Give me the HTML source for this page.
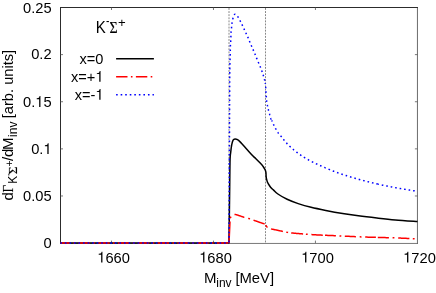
<!DOCTYPE html>
<html><head><meta charset="utf-8"><style>
html,body{margin:0;padding:0;background:#fff;}
body{width:436px;height:293px;overflow:hidden;}
svg{display:block;}
.t{filter:grayscale(1);}
text{font-family:"Liberation Sans",sans-serif;font-size:15px;fill:#000;}
</style></head><body>
<svg width="436" height="293" viewBox="0 0 436 293">
<rect width="436" height="293" fill="#fff"/>
<g stroke="#888" stroke-width="1" stroke-dasharray="1.9 1.2" fill="none">
<path d="M229.0,8 V243.1"/><path d="M265.5,8 V243.1"/>
</g>
<g stroke-width="1" fill="none">
<path d="M417.45,7.5 V243.8" stroke="#6c6c6c"/><path d="M417.95,243.45 H60.5" stroke="#555" stroke-width="0.8"/>
<path d="M60.5,243.8 V7 M60,7.5 H417.95" stroke="#2c2c2c"/>
</g>
<g stroke="#555" stroke-width="0.8" fill="none"><path d="M111.49,243.1 v-2.5 M111.49,7.5 v2.5"/><path d="M213.46,243.1 v-2.5 M213.46,7.5 v2.5"/><path d="M315.43,243.1 v-2.5 M315.43,7.5 v2.5"/><path d="M60.5,195.98 h2.5 M417.4,195.98 h-2.5"/><path d="M60.5,148.86 h2.5 M417.4,148.86 h-2.5"/><path d="M60.5,101.74 h2.5 M417.4,101.74 h-2.5"/><path d="M60.5,54.62 h2.5 M417.4,54.62 h-2.5"/></g>
<g fill="none" stroke-width="1.5" stroke-linejoin="round">
<path d="M60.5,243.0 L229.0,243.0 C229.06,238.33 229.23,224.33 229.35,215.00 C229.47,205.67 229.58,196.22 229.70,187.00 C229.82,177.78 229.88,165.48 230.05,159.70 C230.22,153.92 230.42,154.77 230.70,152.30 C230.97,149.83 231.30,146.92 231.70,144.90 C232.10,142.88 232.55,141.20 233.10,140.20 C233.65,139.20 234.27,138.98 235.00,138.90 C235.73,138.82 236.57,139.12 237.50,139.70 C238.43,140.28 239.05,140.82 240.60,142.40 C242.15,143.98 244.73,146.93 246.80,149.20 C248.87,151.47 251.48,154.42 253.00,156.00 C254.52,157.58 254.70,157.52 255.90,158.70 C257.10,159.88 258.97,161.77 260.20,163.10 C261.43,164.43 262.48,165.58 263.30,166.70 C264.12,167.82 264.67,168.87 265.10,169.80 C265.53,170.73 265.73,171.27 265.90,172.30 C266.07,173.33 266.01,174.93 266.10,176.00 C266.19,177.07 266.22,177.67 266.45,178.70 C266.68,179.73 266.96,180.98 267.50,182.20 C268.04,183.42 269.03,184.98 269.70,186.00 C270.37,187.02 270.88,187.65 271.50,188.30 C272.12,188.95 272.33,188.95 273.40,189.90 C274.47,190.85 275.62,192.43 277.90,194.00 C280.18,195.57 283.72,197.70 287.10,199.30 C290.48,200.90 294.20,202.27 298.20,203.60 C302.20,204.93 306.50,206.17 311.10,207.30 C315.70,208.43 320.27,209.33 325.80,210.40 C331.33,211.47 338.87,212.80 344.30,213.70 C349.73,214.60 352.97,215.08 358.40,215.80 C363.83,216.52 370.75,217.32 376.90,218.00 C383.05,218.68 388.53,219.30 395.30,219.90 C402.07,220.50 413.80,221.32 417.50,221.60" stroke="#000"/>
<path d="M60.5,243.0 H229.0" stroke="#ff0000" stroke-dasharray="11.4 3.4 1.6 3.4" stroke-dashoffset="1.9"/>
<path d="M234.50,214.50 L235.02,214.47 L235.54,214.51 L236.06,214.63 L236.58,214.78 L237.11,214.93 L237.63,215.09 L238.15,215.27 L238.67,215.44 L239.19,215.62 L239.71,215.80 L240.23,215.98 L240.75,216.17 L241.27,216.35 L241.79,216.53 L242.32,216.71 L242.84,216.89 L243.36,217.06 L243.88,217.24 L244.40,217.40 M253.50,220.20 L254.00,220.37 L254.51,220.55 L255.01,220.72 L255.52,220.89 L256.02,221.06 L256.53,221.23 L257.03,221.41 L257.54,221.58 L258.04,221.75 L258.55,221.92 L259.05,222.09 L259.55,222.26 L260.06,222.43 L260.56,222.60 L261.07,222.77 L261.57,222.95 L262.08,223.12 L262.58,223.29 L263.09,223.47 L263.59,223.64 L264.10,223.82 L264.60,224.00 M271.00,228.87 L271.52,229.01 L272.03,229.13 L272.55,229.24 L273.07,229.35 L273.59,229.45 L274.10,229.55 L274.62,229.66 L275.14,229.76 L275.66,229.87 L276.17,229.98 L276.69,230.09 L277.21,230.20 L277.73,230.31 L278.24,230.42 L278.76,230.54 L279.28,230.65 L279.80,230.76 L280.31,230.87 L280.83,230.98 L281.35,231.09 L281.87,231.20 L282.38,231.32 L282.90,231.43 M291.20,232.98 L291.72,233.01 L292.23,233.04 L292.75,233.08 L293.27,233.12 L293.79,233.16 L294.30,233.20 L294.82,233.24 L295.34,233.29 L295.86,233.33 L296.37,233.38 L296.89,233.42 L297.41,233.46 L297.93,233.51 L298.44,233.55 L298.96,233.60 L299.48,233.64 L300.00,233.68 L300.51,233.73 L301.03,233.77 L301.55,233.81 L302.07,233.86 L302.58,233.90 L303.10,233.94 M311.40,234.57 L311.92,234.60 L312.44,234.64 L312.95,234.67 L313.47,234.71 L313.99,234.74 L314.51,234.77 L315.03,234.80 L315.55,234.83 L316.06,234.86 L316.58,234.89 L317.10,234.92 L317.62,234.94 L318.14,234.97 L318.65,235.00 L319.17,235.02 L319.69,235.05 L320.21,235.07 L320.73,235.10 L321.25,235.12 L321.76,235.14 L322.28,235.17 L322.80,235.19 M325.00,235.29 L325.52,235.31 L326.04,235.33 L326.56,235.35 L327.08,235.37 L327.60,235.39 L328.11,235.41 L328.63,235.43 L329.15,235.45 L329.67,235.47 L330.19,235.50 L330.71,235.52 L331.23,235.54 L331.75,235.56 L332.27,235.58 L332.79,235.60 L333.30,235.62 L333.82,235.64 L334.34,235.66 L334.86,235.68 L335.38,235.70 L335.90,235.72 M344.80,236.13 L345.30,236.16 L345.81,236.18 L346.31,236.21 L346.82,236.24 L347.32,236.26 L347.83,236.29 L348.33,236.31 L348.84,236.34 L349.34,236.37 L349.85,236.39 L350.35,236.42 L350.85,236.45 L351.36,236.47 L351.86,236.50 L352.37,236.52 L352.87,236.55 L353.38,236.57 L353.88,236.60 L354.39,236.62 L354.89,236.65 L355.40,236.67 L355.90,236.69 M365.20,237.05 L365.71,237.06 L366.22,237.08 L366.73,237.10 L367.24,237.11 L367.75,237.13 L368.26,237.14 L368.77,237.16 L369.28,237.17 L369.79,237.19 L370.30,237.21 L370.80,237.22 L371.31,237.24 L371.82,237.25 L372.33,237.27 L372.84,237.28 L373.35,237.30 L373.86,237.31 L374.37,237.33 L374.88,237.34 L375.39,237.36 L375.90,237.37 M377.80,237.43 L378.30,237.44 L378.81,237.45 L379.31,237.47 L379.82,237.48 L380.32,237.49 L380.83,237.51 L381.33,237.52 L381.84,237.53 L382.34,237.55 L382.85,237.56 L383.35,237.57 L383.85,237.58 L384.36,237.60 L384.86,237.61 L385.37,237.62 L385.87,237.63 L386.38,237.64 L386.88,237.66 L387.39,237.67 L387.89,237.68 L388.40,237.69 L388.90,237.71 M398.20,238.01 L398.71,238.03 L399.22,238.05 L399.73,238.07 L400.24,238.10 L400.75,238.12 L401.25,238.14 L401.76,238.16 L402.27,238.18 L402.78,238.21 L403.29,238.23 L403.80,238.25 L404.31,238.27 L404.82,238.30 L405.33,238.32 L405.84,238.34 L406.35,238.37 L406.85,238.39 L407.36,238.41 L407.87,238.44 L408.38,238.46 L408.89,238.49 L409.40,238.51 M248.20,218.35 L248.80,218.51 L249.40,218.69 L250.00,218.90 M265.80,225.20 L266.40,226.30 L267.00,226.99 L267.60,227.42 M286.30,232.14 L286.90,232.26 L287.50,232.37 L288.10,232.49 M305.90,234.16 L306.50,234.21 L307.10,234.26 L307.70,234.30 M339.50,235.88 L340.10,235.90 L340.70,235.93 L341.30,235.96 M359.70,236.85 L360.30,236.87 L360.90,236.90 L361.50,236.92 M392.60,237.81 L393.20,237.83 L393.80,237.85 L394.40,237.87 M412.80,238.66 L413.40,238.69 L414.00,238.71 L414.60,238.74 M229.0,243.0 L230.0,221.5 M230.2,218.3 L231.0,216.6" stroke="#ff0000"/>
<path d="M60.5,243.0 H229.0" stroke="#0000ff" stroke-dasharray="1.6 2.95" stroke-dashoffset="0.2"/>
<path d="M229.0,243.0 C229.07,227.50 229.28,177.17 229.40,150.00 C229.52,122.83 229.63,93.58 229.70,80.00 C229.77,66.42 229.77,71.18 229.80,68.50 C229.83,65.82 229.86,65.42 229.90,63.90 C229.94,62.38 230.00,60.88 230.05,59.40 C230.10,57.92 230.16,56.48 230.20,55.00 C230.24,53.52 230.27,52.02 230.30,50.50 C230.33,48.98 230.33,47.37 230.40,45.90 C230.47,44.43 230.62,43.23 230.70,41.70 C230.78,40.17 230.85,38.23 230.90,36.70 C230.95,35.17 230.90,33.95 231.00,32.50 C231.10,31.05 231.35,29.47 231.50,28.00 C231.65,26.53 231.68,25.20 231.90,23.70 C232.12,22.20 232.40,20.47 232.80,19.00 C233.20,17.53 233.85,15.65 234.30,14.90 C234.75,14.15 234.88,14.15 235.50,14.50 C236.12,14.85 237.22,15.92 238.00,17.00 C238.78,18.08 239.52,19.70 240.20,21.00 C240.88,22.30 241.47,23.48 242.10,24.80 C242.73,26.12 243.37,27.53 244.00,28.90 C244.63,30.27 245.27,31.63 245.90,33.00 C246.53,34.37 247.20,35.72 247.80,37.10 C248.40,38.48 248.93,39.93 249.50,41.30 C250.07,42.67 250.62,43.95 251.20,45.30 C251.78,46.65 252.40,48.00 253.00,49.40 C253.60,50.80 254.20,52.25 254.80,53.70 C255.40,55.15 256.02,56.68 256.60,58.10 C257.18,59.52 257.73,60.87 258.30,62.20 C258.87,63.53 259.45,64.77 260.00,66.10 C260.55,67.43 261.08,68.77 261.60,70.20 C262.12,71.63 262.65,73.27 263.10,74.70 C263.55,76.13 263.93,77.42 264.30,78.80 C264.67,80.18 265.13,82.30 265.30,83.00" stroke="#0000ff" stroke-dasharray="1.6 2.95" stroke-dashoffset="3.7"/>
<path d="M265.30,83.00 L265.31,83.11 L265.33,83.23 L265.34,83.36 L265.36,83.51 L265.38,83.67 L265.40,83.85 L265.42,84.03 L265.44,84.22 L265.46,84.42 L265.49,84.63 L265.51,84.84 L265.54,85.06 L265.56,85.29 L265.59,85.51 L265.61,85.74 L265.64,85.97 L265.66,86.19 L265.68,86.42 L265.71,86.65 L265.73,86.87 L265.75,87.09 L265.77,87.30 L265.78,87.50 L265.80,87.70 L265.81,87.89 L265.83,88.09 L265.84,88.28 L265.85,88.48 L265.86,88.67 L265.87,88.86 L265.88,89.06 L265.89,89.25 L265.89,89.45 L265.90,89.64 L265.91,89.83 L265.91,90.02 L265.92,90.22 L265.92,90.41 L265.93,90.60 L265.94,90.79 L265.94,90.98 L265.95,91.17 L265.96,91.36 L265.96,91.55 L265.97,91.74 L265.98,91.93 L265.99,92.11 L266.00,92.30 L266.01,92.48 L266.02,92.67 L266.03,92.85 L266.04,93.03 L266.06,93.21 L266.07,93.39 L266.08,93.57 L266.09,93.75 L266.11,93.93 L266.12,94.10 L266.13,94.28 L266.14,94.46 L266.16,94.63 L266.17,94.81 L266.18,94.99 L266.20,95.16 L266.21,95.34 L266.22,95.52 L266.24,95.70 L266.25,95.88 L266.26,96.05 L266.27,96.24 L266.29,96.42 L266.30,96.60 L266.31,96.78 L266.32,96.97 L266.33,97.15 L266.34,97.34 L266.35,97.52 L266.36,97.71 L266.37,97.90 L266.38,98.09 L266.39,98.27 L266.39,98.46 L266.40,98.65 L266.41,98.84 L266.42,99.03 L266.43,99.21 L266.44,99.40 L266.46,99.59 L266.47,99.78 L266.48,99.97 L266.50,100.16 L266.52,100.35 L266.53,100.54 L266.55,100.72 L266.58,100.91 L266.60,101.10 L266.63,101.29 L266.65,101.48 L266.68,101.66 L266.72,101.85 L266.75,102.04 L266.78,102.23 L266.82,102.42 L266.86,102.61 L266.89,102.80 L266.93,102.99 L266.97,103.17 L267.01,103.36 L267.05,103.55 L267.09,103.74 L267.14,103.93 L267.18,104.11 L267.22,104.30 L267.26,104.49 L267.30,104.68 L267.34,104.86 L267.38,105.05 L267.42,105.23 L267.46,105.42 L267.50,105.60 L267.54,105.78 L267.57,105.97 L267.61,106.15 L267.65,106.33 L267.68,106.51 L267.72,106.69 L267.75,106.87 L267.79,107.05 L267.82,107.23 L267.86,107.41 L267.90,107.58 L267.93,107.76 L267.97,107.94 L268.00,108.12 L268.04,108.30 L268.08,108.47 L268.12,108.65 L268.15,108.83 L268.19,109.01 L268.23,109.19 L268.27,109.36 L268.31,109.54 L268.36,109.72 L268.40,109.90 L268.44,110.08 L268.49,110.26 L268.53,110.44 L268.58,110.62 L268.63,110.79 L268.68,110.97 L268.73,111.15 L268.77,111.33 L268.82,111.51 L268.87,111.69 L268.92,111.87 L268.98,112.04 L269.03,112.22 L269.08,112.40 L269.13,112.58 L269.18,112.76 L269.23,112.94 L269.29,113.12 L269.34,113.30 L269.39,113.48 L269.44,113.66 L269.50,113.84 L269.55,114.02 L269.60,114.20 L269.65,114.38 L269.71,114.57 L269.76,114.76 L269.81,114.95 L269.87,115.14 L269.92,115.34 L269.97,115.53 L270.03,115.73 L270.08,115.93 L270.14,116.12 L270.19,116.32 L270.25,116.51 L270.31,116.71 L270.36,116.90 L270.42,117.08 L270.47,117.27 L270.53,117.45 L270.58,117.63 L270.63,117.81 L270.69,117.98 L270.74,118.14 L270.79,118.30 L270.85,118.45 L270.90,118.60 L270.95,118.74 L271.00,118.87 L271.05,118.99 L271.10,119.11 L271.15,119.22 L271.20,119.33 L271.24,119.43 L271.29,119.52 L271.34,119.62 L271.38,119.71 L271.43,119.79 L271.47,119.88 L271.52,119.97 L271.57,120.06 L271.62,120.14 L271.67,120.23 L271.72,120.33" stroke="#0000ff" stroke-dasharray="1.6 2.95" stroke-dashoffset="0.8"/>
<path d="M271.72,120.33 L271.77,120.42 L271.82,120.52 L271.87,120.62 L271.93,120.73 L271.98,120.85 L272.04,120.97 L272.10,121.10 L272.16,121.24 L272.22,121.38 L272.29,121.52 L272.35,121.67 L272.41,121.82 L272.48,121.97 L272.55,122.13 L272.61,122.29 L272.68,122.46 L272.75,122.62 L272.82,122.79 L272.89,122.96 L272.97,123.13 L273.04,123.30 L273.11,123.47 L273.19,123.64 L273.26,123.81 L273.34,123.99 L273.41,124.16 L273.49,124.33 L273.56,124.50 L273.64,124.67 L273.72,124.83 L273.80,125.00 L273.88,125.16 L273.96,125.33 L274.04,125.50 L274.12,125.66 L274.21,125.83 L274.29,126.00 L274.38,126.16 L274.46,126.33 L274.55,126.50 L274.64,126.66 L274.72,126.83 L274.81,127.00 L274.90,127.17 L274.99,127.34 L275.08,127.50 L275.17,127.67 L275.26,127.84 L275.35,128.00 L275.44,128.17 L275.53,128.34 L275.63,128.50 L275.72,128.67 L275.81,128.84 L275.90,129.00 L275.99,129.16 L276.08,129.33 L276.17,129.50 L276.26,129.66 L276.36,129.83 L276.45,129.99 L276.54,130.16 L276.63,130.32 L276.72,130.49 L276.81,130.65 L276.91,130.82 L277.00,130.98 L277.09,131.15 L277.19,131.31 L277.28,131.47 L277.38,131.63 L277.48,131.79 L277.58,131.96 L277.68,132.12 L277.78,132.27 L277.88,132.43 L277.99,132.59 L278.09,132.75 L278.20,132.90 L278.31,133.05 L278.41,133.20 L278.52,133.33 L278.62,133.47 L278.72,133.60 L278.82,133.73 L278.92,133.85 L279.03,133.98 L279.13,134.10 L279.23,134.22 L279.34,134.35 L279.45,134.47 L279.56,134.60 L279.68,134.74 L279.80,134.87 L279.92,135.01 L280.05,135.16 L280.18,135.31 L280.32,135.47 L280.46,135.64 L280.61,135.81 L280.77,136.00 L280.93,136.19 L281.10,136.40 L281.28,136.62 L281.46,136.85 L281.66,137.09 L281.86,137.34 L282.06,137.60 L282.27,137.86 L282.49,138.14 L282.71,138.41 L282.93,138.70 L283.16,138.99 L283.39,139.28 L283.63,139.58 L283.87,139.88 L284.11,140.18 L284.36,140.48 L284.60,140.79 L284.85,141.09 L285.10,141.39 L285.35,141.68 L285.60,141.98 L285.85,142.26 L286.10,142.55 L286.35,142.83 L286.60,143.10 L286.85,143.37 L287.10,143.64 L287.35,143.90 L287.60,144.17 L287.86,144.43 L288.11,144.70 L288.37,144.96 L288.63,145.23 L288.89,145.49 L289.15,145.75 L289.42,146.01 L289.68,146.27 L289.95,146.53 L290.22,146.78 L290.49,147.04 L290.76,147.30 L291.03,147.55 L291.31,147.80 L291.59,148.06 L291.87,148.31 L292.15,148.56 L292.43,148.81 L292.71,149.05 L293.00,149.30 L293.29,149.55 L293.58,149.79 L293.88,150.04 L294.18,150.28 L294.48,150.52 L294.78,150.77 L295.09,151.01 L295.39,151.25 L295.70,151.49 L296.01,151.73 L296.32,151.96 L296.64,152.20 L296.95,152.43 L297.27,152.67 L297.58,152.90 L297.90,153.13 L298.21,153.36 L298.53,153.58 L298.84,153.81 L299.16,154.03 L299.47,154.25 L299.78,154.47 L300.09,154.69 L300.40,154.90 L300.71,155.11 L301.01,155.32 L301.32,155.53 L301.62,155.73 L301.93,155.93 L302.23,156.13 L302.53,156.33 L302.83,156.52 L303.14,156.72 L303.44,156.91 L303.74,157.10 L304.04,157.29 L304.35,157.48 L304.65,157.66 L304.96,157.85 L305.27,158.03 L305.58,158.22 L305.89,158.40 L306.20,158.58 L306.51,158.77 L306.83,158.95 L307.15,159.13 L307.47,159.32 L307.80,159.50 L308.13,159.68 L308.46,159.86 L308.79,160.04 L309.12,160.22 L309.45,160.40 L309.79,160.58 L310.13,160.76 L310.47,160.93 L310.81,161.11 L311.15,161.28 L311.49,161.46 L311.84,161.63 L312.18,161.80 L312.53,161.98 L312.88,162.15 L313.23,162.32 L313.59,162.49 L313.94,162.67 L314.30,162.84 L314.65,163.01 L315.01,163.18 L315.37,163.35 L315.74,163.53 L316.10,163.70 L316.47,163.87 L316.84,164.05 L317.21,164.22 L317.59,164.40 L317.97,164.57 L318.35,164.75 L318.74,164.92 L319.13,165.10 L319.51,165.27 L319.90,165.45 L320.30,165.62 L320.69,165.79 L321.08,165.97 L321.47,166.14 L321.86,166.31 L322.25,166.48 L322.64,166.65 L323.03,166.82 L323.41,166.99 L323.80,167.15 L324.18,167.32 L324.55,167.48 L324.93,167.64" stroke="#0000ff" stroke-dasharray="1.6 2.95" stroke-dashoffset="0.3"/>
<path d="M325.10,167.71 L325.60,167.93 L326.10,168.14 L326.60,168.36 L327.10,168.57 L327.60,168.78 L328.10,168.99 L328.60,169.20 L329.10,169.41 L329.60,169.62 L330.10,169.82 L330.60,170.03 L331.10,170.23 L331.60,170.43 L332.10,170.63 L332.60,170.83 L333.10,171.03 L333.60,171.22 L334.10,171.42 L334.60,171.61 L335.10,171.79 L335.60,171.98 L336.10,172.17 L336.60,172.35 L337.10,172.53 L337.60,172.71 L338.10,172.89 L338.60,173.07 L339.10,173.25 L339.60,173.43 L340.10,173.60 L340.60,173.78 L341.10,173.95 L341.60,174.13 L342.10,174.30 L342.60,174.47 L343.10,174.65 L343.60,174.82 L344.10,174.98 L344.60,175.13 L345.10,175.28 L345.60,175.43 L346.10,175.58 L346.60,175.73 L347.10,175.88 L347.60,176.03 L348.10,176.19 L348.60,176.34 L349.10,176.49 L349.60,176.65 L350.10,176.80 L350.60,176.95 L351.10,177.10 L351.60,177.26 L352.10,177.41 L352.60,177.56 L353.10,177.71 L353.60,177.86 L354.10,178.00 L354.60,178.15 L355.10,178.30 L355.60,178.44 L356.10,178.58 L356.60,178.73 L357.10,178.87 L357.60,179.01 L358.10,179.15 L358.60,179.28 L359.10,179.42 L359.60,179.55 L360.10,179.69 L360.60,179.82 L361.10,179.95 L361.60,180.09 L362.10,180.22 L362.60,180.35 L363.10,180.48 L363.60,180.61 L364.10,180.74 L364.60,180.87 L365.10,181.00 L365.60,181.13 L366.10,181.26 L366.60,181.39 L367.10,181.51 L367.60,181.64 L368.10,181.77 L368.60,181.89 L369.10,182.02 L369.60,182.14 L370.10,182.27 L370.60,182.39 L371.10,182.51 L371.60,182.64 L372.10,182.76 L372.60,182.88 L373.10,183.00 L373.60,183.12 L374.10,183.24 L374.60,183.36 L375.10,183.48 L375.60,183.59 L376.10,183.71 L376.60,183.83 L377.10,183.94 L377.60,184.05 L378.10,184.17" stroke="#0000ff" stroke-dasharray="1.6 2.95" stroke-dashoffset="0.8"/>
<path d="M378.10,184.17 L378.61,184.28 L379.11,184.39 L379.62,184.50 L380.12,184.61 L380.63,184.72 L381.13,184.83 L381.64,184.94 L382.14,185.05 L382.65,185.15 L383.15,185.26 L383.66,185.37 L384.16,185.47 L384.67,185.57 L385.17,185.68 L385.68,185.78 L386.18,185.88 L386.69,185.98 L387.19,186.08 L387.70,186.18 L388.20,186.28 L388.71,186.38 L389.21,186.48 L389.72,186.58 L390.22,186.68 L390.73,186.77 L391.23,186.87 L391.74,186.97 L392.24,187.06 L392.75,187.16 L393.25,187.25 L393.76,187.35 L394.26,187.44 L394.77,187.54 L395.27,187.63 L395.78,187.72 L396.28,187.82 L396.79,187.91 L397.29,188.00 L397.80,188.09 L398.31,188.18 L398.81,188.27 L399.32,188.36 L399.82,188.45 L400.33,188.53 L400.83,188.62 L401.34,188.71 L401.84,188.79 L402.35,188.88 L402.85,188.96 L403.36,189.05 L403.86,189.13 L404.37,189.22 L404.87,189.30 L405.38,189.38 L405.88,189.47 L406.39,189.55 L406.89,189.63 L407.40,189.72 L407.90,189.80 L408.41,189.88 L408.91,189.96 L409.42,190.04 L409.92,190.13 L410.43,190.21 L410.93,190.29 L411.44,190.37 L411.94,190.45 L412.45,190.53 L412.95,190.62 L413.46,190.70 L413.96,190.78 L414.47,190.86 L414.97,190.94 L415.48,191.03 L415.98,191.11 L416.49,191.19 L416.99,191.26 L417.50,191.30" stroke="#0000ff" stroke-dasharray="1.6 2.95" stroke-dashoffset="0.8"/>
<path d="M116.1,58.85 H153.9" stroke="#000"/>
<path d="M116.1,76.75 H153.9" stroke="#ff0000" stroke-dasharray="11.4 3.4 1.6 3.4"/>
<path d="M116.1,94.75 H153.9" stroke="#0000ff" stroke-dasharray="1.6 2.95"/>
</g>
<g class="t"><path d="M102.44,262.50 L102.44,251.66 L101.59,251.66 L101.20,252.94 L100.40,253.56 L98.72,253.79 L98.72,254.75 L101.15,254.75 L101.15,262.50 Z" fill="#000"/><text transform="translate(0,262.5) scale(1,1.04)" x="105.41 113.59 121.76" y="0" style="font-size:14.7px">660</text><path d="M204.41,262.50 L204.41,251.66 L203.56,251.66 L203.18,252.94 L202.37,253.56 L200.69,253.79 L200.69,254.75 L203.12,254.75 L203.12,262.50 Z" fill="#000"/><text transform="translate(0,262.5) scale(1,1.04)" x="207.38 215.56 223.73" y="0" style="font-size:14.7px">680</text><path d="M306.38,262.50 L306.38,251.66 L305.53,251.66 L305.15,252.94 L304.34,253.56 L302.66,253.79 L302.66,254.75 L305.09,254.75 L305.09,262.50 Z" fill="#000"/><text transform="translate(0,262.5) scale(1,1.04)" x="309.35 317.53 325.70" y="0" style="font-size:14.7px">700</text><path d="M408.35,262.50 L408.35,251.66 L407.50,251.66 L407.12,252.94 L406.31,253.56 L404.63,253.79 L404.63,254.75 L407.06,254.75 L407.06,262.50 Z" fill="#000"/><text transform="translate(0,262.5) scale(1,1.04)" x="411.32 419.50 427.68" y="0" style="font-size:14.7px">720</text><text transform="translate(0,248.0) scale(1,1.04)" x="43.42" y="0" style="font-size:14.7px">0</text><text transform="translate(0,200.8) scale(1,1.04)" x="22.99 31.16 35.25 43.42" y="0" style="font-size:14.7px">0.05</text><path d="M48.63,154.00 L48.63,143.16 L47.78,143.16 L47.39,144.44 L46.59,145.06 L44.91,145.29 L44.91,146.25 L47.33,146.25 L47.33,154.00 Z" fill="#000"/><text transform="translate(0,154.0) scale(1,1.04)" x="31.16 39.34" y="0" style="font-size:14.7px">0.</text><path d="M40.45,106.90 L40.45,96.06 L39.60,96.06 L39.22,97.34 L38.41,97.96 L36.73,98.19 L36.73,99.15 L39.16,99.15 L39.16,106.90 Z" fill="#000"/><text transform="translate(0,106.9) scale(1,1.04)" x="22.99 31.16 43.42" y="0" style="font-size:14.7px">0.5</text><text transform="translate(0,59.4) scale(1,1.04)" x="31.16 39.34 43.42" y="0" style="font-size:14.7px">0.2</text><text transform="translate(0,12.8) scale(1,1.04)" x="22.99 31.16 35.25 43.42" y="0" style="font-size:14.7px">0.25</text>
<text transform="translate(0,63.6) scale(1,1.03)" x="79.55 86.85 95.38" y="0" style="font-size:14.6px">x=0</text>
<path d="M100.55,81.70 L100.55,71.04 L99.70,71.04 L99.32,72.30 L98.52,72.90 L96.85,73.13 L96.85,74.08 L99.26,74.08 L99.26,81.70 Z" fill="#000"/><text transform="translate(0,81.7) scale(1,1.03)" x="71.03 78.33 86.85" y="0" style="font-size:14.6px">x=+</text>
<path d="M100.55,99.70 L100.55,89.04 L99.70,89.04 L99.32,90.30 L98.52,90.90 L96.85,91.13 L96.85,92.08 L99.26,92.08 L99.26,99.70 Z" fill="#000"/><text transform="translate(0,99.7) scale(1,1.03)" x="74.69 81.99 90.52" y="0" style="font-size:14.6px">x=-</text>
<text transform="translate(95.8,32.5) scale(1,1.04)">K</text><rect x="106.5" y="21.0" width="2.4" height="1.1" fill="#000"/><text transform="translate(109.55,32.50) scale(0.890,1)" stroke="#000" stroke-width="0.15" style="font-family:'Liberation Serif',serif;font-size:15.73px">&#931;</text><text x="118.05" y="27.0" style="font-size:13.2px">+</text>
<text transform="translate(204.1,282.8) scale(1,1.03)">M</text><text x="216.25" y="286.9" style="font-size:12px">inv</text><text transform="translate(235.4,282.8) scale(1,1.03)" textLength="38.7" lengthAdjust="spacingAndGlyphs">[MeV]</text>
<g transform="translate(13.3,200.5) rotate(-90)"><text x="0" y="0">d</text><text transform="translate(8.07,0.00) scale(0.868,1)" stroke="#000" stroke-width="0.15" style="font-family:'Liberation Serif',serif;font-size:15.27px">&#915;</text><text x="16.7" y="3.6" style="font-size:12px">K</text><rect x="25.0" y="-4.9" width="1.9" height="0.9" fill="#000"/><text transform="translate(26.18,3.60) scale(1.044,1)" stroke="#000" stroke-width="0.15" style="font-family:'Liberation Serif',serif;font-size:12.82px">&#931;</text><text x="33.9" y="0.0" style="font-size:10.5px">+</text><text x="39.6" y="0">/</text><text x="43.6" y="0">d</text><text x="50.6" y="0">M</text><text x="63.6" y="3.6" style="font-size:12px">inv</text><text x="82.3" y="0" textLength="68.3" lengthAdjust="spacingAndGlyphs">[arb. units]</text></g></g>
</svg>
</body></html>
